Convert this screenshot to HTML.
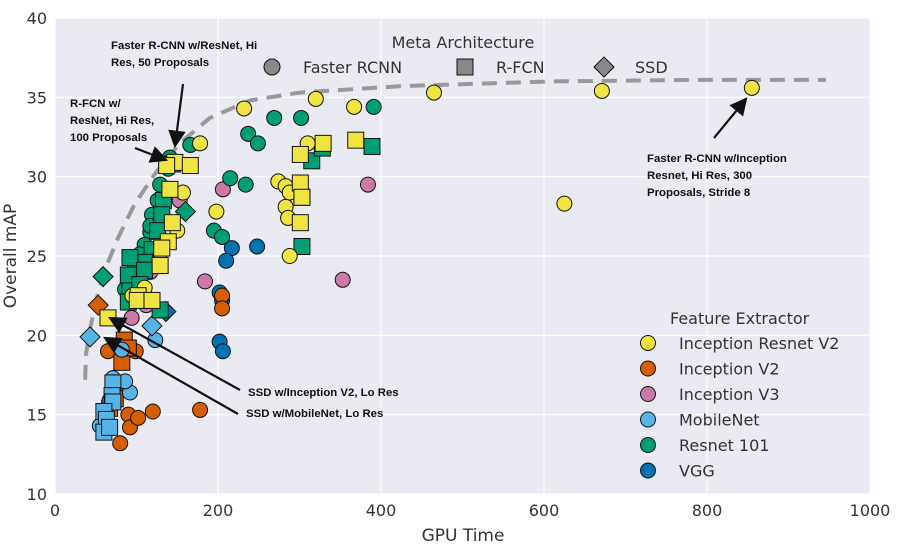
<!DOCTYPE html>
<html><head><meta charset="utf-8"><style>
body{margin:0;background:#fff;}
svg{display:block;font-family:"DejaVu Sans","Liberation Sans",sans-serif;}
.ann{font-family:"Liberation Sans",sans-serif;font-weight:bold;font-size:11.4px;fill:#111;}
</style></head><body>
<svg id="chart" width="902" height="550"></svg>
<script>
const xTicks=[0,200,400,600,800,1000];
const yTicks=[10,15,20,25,30,35,40];
const incResC=[[232,34.3],[320,34.9],[367,34.4],[465,35.3],[671,35.4],[855,35.6],[178,32.1],[310,32.1],[274,29.7],[283,29.4],[288,29.0],[283,28.1],[286,27.4],[198,27.8],[288,25.0],[625,28.3],[157,29.0],[150,26.6],[129,24.7],[110,23.0],[95,22.5]];
const incResS=[[147,30.9],[166,30.7],[137,30.7],[141,29.2],[144,27.1],[139,25.9],[131,25.5],[129,24.4],[102,22.5],[101,22.2],[65,21.1],[301,31.4],[329,32.1],[369,32.3],[301,29.6],[303,28.7],[301,27.1],[119,22.2]];
const resC=[[391,34.4],[302,33.7],[269,33.7],[237,32.7],[249,32.1],[166,32.0],[141,31.2],[139,30.5],[215,29.9],[234,29.5],[195,26.6],[205,26.2],[129,29.5],[126,28.5],[119,27.6],[117,26.5],[110,25.7],[104,25.1],[98,24.4],[92,23.5],[95,22.2],[86,22.9],[117,26.9],[131,26.0]];
const resS=[[315,31.0],[328,31.8],[389,31.9],[303,28.7],[303,25.6],[133,28.5],[131,27.6],[126,26.6],[119,25.4],[110,24.6],[92,24.9],[90,23.8],[92,22.8],[90,22.1],[129,21.6],[110,24.1],[104,23.2],[144,30.8]];
const resD=[[59,23.7],[160,27.8]];
const v2C=[[205,22.5],[205,21.7],[65,19.0],[99,19.0],[90,15.0],[120,15.2],[178,15.3],[80,13.2],[92,14.2],[102,14.8]];
const v2S=[[82,18.3],[85,19.7],[90,19.2],[77,16.9],[74,16.0],[67,15.4]];
const v2D=[[53,21.9],[104,22.9]];
const v3C=[[206,29.2],[153,28.5],[184,23.4],[353,23.5],[384,29.5],[117,24.0],[112,21.9],[94,21.1]];
const mobC=[[123,19.7],[82,19.1],[71,17.3],[92,16.4],[86,17.1],[55,14.3],[67,15.9]];
const mobS=[[71,17.0],[70,16.2],[71,15.8],[60,15.2],[63,14.7],[60,13.9],[67,14.2]];
const mobD=[[43,19.9],[119,20.6]];
const vggC=[[202,22.7],[205,22.2],[217,25.5],[248,25.6],[210,24.7],[202,19.6],[206,19.0]];
const vggD=[[136,21.5]];
const frontierX=[37,38,43,51,61,77,98,123,153,190,239,300,423,607,791,946];
const frontierY=[17.2,18.8,20.4,22.3,24.1,26.1,28.3,30.2,32.1,33.7,34.8,35.3,35.7,36.0,36.1,36.1];

const L=55,R=870,T=18,B=494;
const xs=v=>L+(v-0)/1000*(R-L);
const ys=m=>B-(m-10)/30*(B-T);
const NS="http://www.w3.org/2000/svg";
const svg=document.getElementById('chart');
function mk(tag,attrs,parent){const e=document.createElementNS(NS,tag);for(const k in attrs)e.setAttribute(k,attrs[k]);(parent||svg).appendChild(e);return e;}
const bg=mk('rect',{x:L,y:T,width:R-L,height:B-T,fill:'#eaeaf2'});


xTicks.forEach(t=>{const g=mk('line',{x1:xs(t),x2:xs(t),y1:T,y2:B,stroke:'#fff','stroke-width':1.2});


const tx=mk('text',{x:xs(t),y:516,'text-anchor':'middle','font-size':16,fill:'#333'});tx.textContent=t;

});
yTicks.forEach(t=>{const g=mk('line',{x1:L,x2:R,y1:ys(t),y2:ys(t),stroke:'#fff','stroke-width':1.2});


const tx=mk('text',{x:47,y:ys(t)+6,'text-anchor':'end','font-size':16,fill:'#333'});tx.textContent=t;

});
const pts=frontierX.map((v,i)=>xs(v)+','+ys(frontierY[i])).join(' ');
const fr=mk('polyline',{points:pts,fill:'none',stroke:'#999','stroke-width':4,'stroke-dasharray':'15,9'});



const COL={ir:'#f0e442',v2:'#d55e00',v3:'#cc79a7',mob:'#56b4e9',res:'#009e73',vgg:'#0072b2'};
function circ(d,c,name){d.forEach(p=>{const e=mk('circle',{cx:xs(p[0]),cy:ys(p[1]),r:7.5,fill:c,stroke:'#111','stroke-width':1});

});}
function sq(d,c,name){d.forEach(p=>{const e=mk('rect',{x:xs(p[0])-8,y:ys(p[1])-8,width:16,height:16,fill:c,stroke:'#111','stroke-width':1});

});}
function dia(d,c,name){d.forEach(p=>{const x=xs(p[0]),y=ys(p[1]);const e=mk('polygon',{points:`${x},${y-10} ${x+10},${y} ${x},${y+10} ${x-10},${y}`,fill:c,stroke:'#111','stroke-width':1});

});}
circ(vggC,COL.vgg,'vgg-point');dia(vggD,COL.vgg,'vgg-point');
circ(v2C,COL.v2,'inception-v2-point');sq(v2S,COL.v2,'inception-v2-point');dia(v2D,COL.v2,'inception-v2-point');
circ(mobC,COL.mob,'mobilenet-point');sq(mobS,COL.mob,'mobilenet-point');dia(mobD,COL.mob,'mobilenet-point');
circ(v3C,COL.v3,'inception-v3-point');
circ(resC,COL.res,'resnet-point');sq(resS,COL.res,'resnet-point');dia(resD,COL.res,'resnet-point');
circ(incResC,COL.ir,'inception-resnet-point');sq(incResS,COL.ir,'inception-resnet-point');

const xt=mk('text',{x:463,y:541,'text-anchor':'middle','font-size':17,fill:'#333'});xt.textContent='GPU Time';


const yt=mk('text',{x:0,y:0,'text-anchor':'middle','font-size':17,fill:'#333',transform:'translate(16,256) rotate(-90)'});yt.textContent='Overall mAP';



const mt=mk('text',{x:463,y:48,'text-anchor':'middle','font-size':16,fill:'#333'});mt.textContent='Meta Architecture';


[['c',272,'Faster RCNN'],['s',465,'R-FCN'],['d',604,'SSD']].forEach(([k,x,lab])=>{
 let e;
 if(k==='c')e=mk('circle',{cx:x,cy:67,r:8,fill:'#888',stroke:'#111'});
 else if(k==='s')e=mk('rect',{x:x-8,y:59,width:16,height:16,fill:'#888',stroke:'#111'});
 else e=mk('polygon',{points:`${x},57 ${x+10},67 ${x},77 ${x-10},67`,fill:'#888',stroke:'#111'});
 
 
 const t=mk('text',{x:x+31,y:73,'font-size':16,fill:'#333'});t.textContent=lab;
 
 
});
const ft=mk('text',{x:670,y:324,'font-size':16,fill:'#333'});ft.textContent='Feature Extractor';


[[COL.ir,'Inception Resnet V2'],[COL.v2,'Inception V2'],[COL.v3,'Inception V3'],[COL.mob,'MobileNet'],[COL.res,'Resnet 101'],[COL.vgg,'VGG']].forEach(([c,lab],i)=>{
 const y=343+i*25.5;
 const e=mk('circle',{cx:648,cy:y,r:7.5,fill:c,stroke:'#111'});
 
 
 const t=mk('text',{x:679,y:y+6,'font-size':16,fill:'#333'});t.textContent=lab;
 
 
});
const defs=mk('defs',{});
const mkr=mk('marker',{id:'ah',markerWidth:8,markerHeight:8,refX:7,refY:4,orient:'auto'},defs);
mk('path',{d:'M0,0 L8,4 L0,8 Z',fill:'#111'},mkr);
function ann(lines,x,y,name){lines.forEach((l,i)=>{const t=mk('text',{x:x,y:y+i*17,class:'ann'});t.textContent=l;

});}
function arrow(x1,y1,x2,y2,name){const a=mk('line',{x1,y1,x2,y2,stroke:'#111','stroke-width':2.2,'marker-end':'url(#ah)'});

}
ann(['Faster R-CNN w/ResNet, Hi','Res, 50 Proposals'],111,49,'annotation-frcnn-resnet');
arrow(183,84,175,146,'arrow-frcnn-resnet');
ann(['R-FCN w/','ResNet, Hi Res,','100 Proposals'],70,107,'annotation-rfcn-resnet');
arrow(135,148,166,160,'arrow-rfcn-resnet');
ann(['Faster R-CNN w/Inception','Resnet, Hi Res, 300','Proposals, Stride 8'],647,162,'annotation-frcnn-inception');
arrow(714,138,746,99,'arrow-frcnn-inception');
ann(['SSD w/Inception V2, Lo Res'],248,396,'annotation-ssd-inception');
arrow(240,390,110,318,'arrow-ssd-inception');
ann(['SSD w/MobileNet, Lo Res'],246,417,'annotation-ssd-mobilenet');
arrow(238,414,105,338,'arrow-ssd-mobilenet');
</script>
</body></html>
